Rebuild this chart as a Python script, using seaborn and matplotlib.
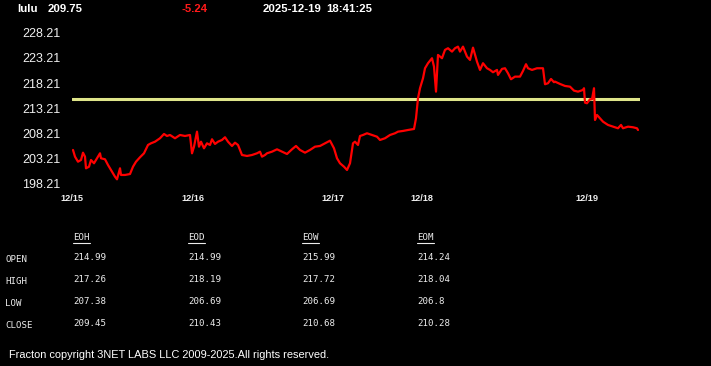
import matplotlib
matplotlib.use("Agg")
import matplotlib.pyplot as plt
import seaborn as sns
import pandas as pd
from matplotlib.lines import Line2D

# ---------------- data ----------------
symbol = "lulu"
last_price = "209.75"
change = "-5.24"
stamp_date = "2025-12-19"
stamp_time = "18:41:25"

bars = [1, 3, 6, 9, 11, 13, 14, 17, 19, 22, 24, 28, 29, 33, 36, 39, 43, 45, 48, 49,
        53, 58, 61, 64, 68, 72, 76, 79, 83, 88, 92, 95,
        98, 103, 108, 113, 118, 120, 122, 125, 127, 129, 132, 135, 138, 140, 143, 146,
        150, 153, 156, 160, 163, 166, 170, 175, 180, 185, 188, 190, 193,
        195, 200, 205, 210, 215, 220, 224, 228, 233, 238, 243, 248, 253, 258, 262, 265,
        268, 272, 275, 278, 281, 283, 286, 288,
        291, 295, 300, 305, 308, 313, 318, 323, 326, 331, 336, 342, 344, 346, 348, 351,
        353, 356, 360, 362, 364, 366, 370, 373, 376, 380, 383, 386,
        388, 391, 395, 398, 401, 405, 408, 411, 415, 418, 421, 425, 426, 430, 433, 436,
        439, 443, 448, 451, 454, 456, 460, 465, 469, 471, 473, 476, 479, 482,
        483, 488, 493, 498, 502, 506, 511, 512, 513, 515, 518, 520, 522, 523, 525, 528,
        531, 536, 541, 546, 549, 551, 556, 561, 565, 566]
prices = [204.96, 203.63, 202.63, 202.97, 204.42, 203.63, 201.32, 201.64, 202.97, 202.32,
          202.97, 204.30, 203.31, 203.11, 201.98, 200.99, 199.66, 199.14, 201.32, 200.00,
          200.00, 200.19, 201.64, 202.63, 203.51, 204.30, 205.95, 206.28, 206.60, 207.28,
          208.13, 207.73,
          207.93, 207.28, 207.93, 207.73, 207.93, 204.30, 205.61, 208.59, 205.61, 206.60,
          205.29, 206.28, 205.95, 207.08, 206.15, 206.60, 206.94, 207.48, 206.60, 205.75,
          206.40, 205.95, 203.96, 203.77, 203.96, 204.30, 204.62, 203.63, 203.96,
          204.30, 204.62, 205.09, 204.62, 204.16, 205.09, 205.75, 204.96, 204.42, 204.96,
          205.61, 205.75, 206.28, 206.80, 205.29, 203.31, 202.32, 201.64, 200.99, 202.32,
          206.28, 206.60, 205.95, 207.73,
          207.93, 208.27, 207.93, 207.59, 206.94, 207.28, 207.93, 208.27, 208.59, 208.73,
          208.92, 209.12, 211.24, 215.21, 217.20, 219.18, 221.16, 222.16, 223.15, 221.48,
          216.52, 223.80, 223.15, 224.80, 225.13, 224.46, 225.13, 225.45,
          224.46, 225.45, 223.47, 222.81, 225.25, 222.47, 220.83, 222.16, 221.16, 220.83,
          220.37, 220.83, 219.84, 221.03, 221.16, 220.17, 218.98, 219.50, 219.50, 220.63,
          221.96, 221.16, 220.83, 221.16, 221.16, 221.16, 217.99, 218.19, 219.04, 218.39,
          218.51, 218.05, 217.65, 217.51, 216.72, 216.52, 216.86, 217.20, 214.34, 214.22,
          215.01, 215.01, 217.20, 210.91, 211.90, 211.24, 210.57, 209.92, 209.58, 209.26,
          209.92, 209.26, 209.58, 209.46, 209.26, 208.92]
reference_level = 214.99

date_labels = ["12/15", "12/16", "12/17", "12/18", "12/19"]
date_bars = [0, 121, 261, 350, 515]
bar_range = (0, 568)
ytick_values = [198.21, 203.21, 208.21, 213.21, 218.21, 223.21, 228.21]

row_names = ["OPEN", "HIGH", "LOW", "CLOSE"]
col_names = ["EOH", "EOD", "EOW", "EOM"]
EOH = ["214.99", "217.26", "207.38", "209.45"]
EOD = ["214.99", "218.19", "206.69", "210.43"]
EOW = ["215.99", "217.72", "206.69", "210.68"]
EOM = ["214.24", "218.04", "206.8", "210.28"]
footer = "Fracton copyright 3NET LABS LLC 2009-2025.All rights reserved."

# ---------------- style ----------------
sns.set_theme(style="dark")
plt.rcParams["font.family"] = ["Liberation Sans", "DejaVu Sans"]
W, H = 711, 366
fig = plt.figure(figsize=(W / 100, H / 100), dpi=100, facecolor="black")

def fx(px):
    return px / W

def fy(py):
    return 1 - py / H

ax = fig.add_axes([fx(72), fy(184), fx(640) - fx(72), (184 - 32.7) / H])
ax.set_facecolor("black")

df = pd.DataFrame({"bar": bars, "price": prices})
ax.axhline(reference_level, color="#dfe58a", lw=2.2, zorder=1)
sns.lineplot(data=df, x="bar", y="price", color="#ff0000", lw=1.6, ax=ax,
             zorder=2, clip_on=False)

ax.set_xlim(*bar_range)
ax.set_ylim(ytick_values[0], ytick_values[-1])
ax.set_yticks(ytick_values)
ax.set_yticklabels([f"{v:.2f}" for v in ytick_values])
ax.set_xticks(date_bars)
ax.set_xticklabels(date_labels)
ax.set_xlabel("")
ax.set_ylabel("")
ax.grid(False)
for s in ax.spines.values():
    s.set_visible(False)
ax.tick_params(axis="y", length=0, pad=8.5, labelsize=9, labelcolor="#f0f0f0")
ax.tick_params(axis="x", length=2.5, width=1, color="white", direction="out",
               pad=4.5, labelsize=6.6, labelcolor="#f0f0f0")
for t in ax.get_xticklabels():
    t.set_fontweight("bold")

# ---------------- header ----------------
hy = fy(9.5)
hs = 8.2
fig.text(fx(17), hy, symbol, color="white", fontsize=hs, fontweight="bold",
         va="center", ha="left")
fig.text(fx(48), hy, last_price, color="white", fontsize=hs, fontweight="bold",
         va="center", ha="left")
fig.text(fx(181), hy, change, color="#ff1a1a", fontsize=hs, fontweight="bold",
         va="center", ha="left")
fig.text(fx(263), hy, stamp_date, color="white", fontsize=hs, fontweight="bold",
         va="center", ha="left")
fig.text(fx(326), hy, stamp_time, color="white", fontsize=hs, fontweight="bold",
         va="center", ha="left")

# ---------------- table ----------------
mono = ["DejaVu Sans Mono"]
tc = "#ececec"
col_x = [73, 188, 302, 417]
row_y = [259, 281, 303, 325]
cols = [EOH, EOD, EOW, EOM]
hdr_texts = []
for cx, name in zip(col_x, col_names):
    t = fig.text(fx(cx), fy(238), name, color=tc, fontsize=6.6, family=mono,
                 va="center", ha="left")
    hdr_texts.append(t)
for ry, name in zip(row_y, row_names):
    fig.text(fx(5), fy(ry), name, color=tc, fontsize=6.6, family=mono,
             va="center", ha="left")
for cx, vals in zip(col_x, cols):
    for ry, v in zip(row_y, vals):
        fig.text(fx(cx), fy(ry - 1.5), v, color=tc, fontsize=6.6, family=mono,
                 va="center", ha="left")

fig.canvas.draw()
r = fig.canvas.get_renderer()
for t in hdr_texts:
    bb = t.get_window_extent(r)
    y = bb.y0 - 1
    fig.add_artist(Line2D([bb.x0 / W, bb.x1 / W], [y / H, y / H], color=tc, lw=0.8,
                          transform=fig.transFigure))

fig.text(fx(9), fy(355), footer, color="white", fontsize=7.9, va="center", ha="left")

fig.savefig("out.png", dpi=100, facecolor="black")
